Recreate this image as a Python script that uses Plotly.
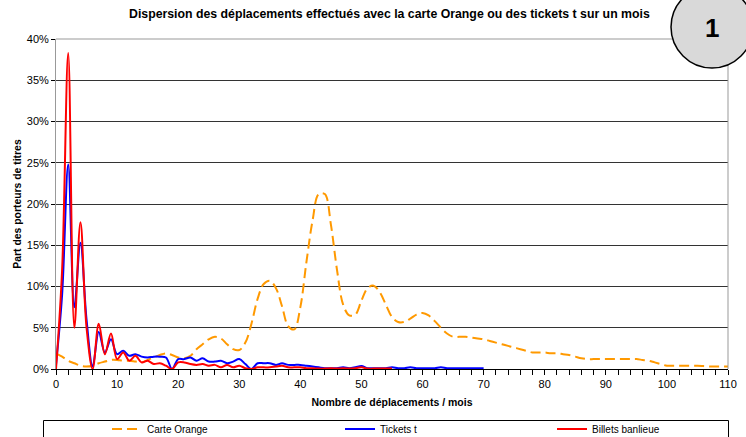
import plotly.graph_objects as go

# ---- data ----
x_orange = list(range(0, 111))
carte_orange = [1.9, 1.5, 1.0, 0.7, 0.4, 0.3, 0.4, 0.7, 0.9, 1.1,
                1.1, 1.0, 1.0, 0.9, 0.8, 1.1, 1.4, 1.7, 1.9, 1.7,
                1.4, 1.3, 1.6, 2.4, 3.0, 3.6, 3.9, 3.7, 3.0, 2.4,
                2.3, 3.2, 5.5, 8.5, 10.3, 10.7, 9.8, 7.6, 5.2, 4.8,
                7.5, 13.0, 18.0, 21.2, 21.2, 17.5, 12.0, 7.8, 6.5, 6.6,
                8.3, 9.8, 10.1, 9.3, 7.8, 6.3, 5.7, 5.7, 6.1, 6.6,
                6.8, 6.5, 5.8, 5.0, 4.3, 3.9, 3.9, 3.9, 3.8, 3.7,
                3.6, 3.4, 3.2, 3.0, 2.8, 2.6, 2.4, 2.2, 2.0, 2.0,
                2.0, 1.9, 1.9, 1.8, 1.7, 1.5, 1.3, 1.2, 1.2, 1.2,
                1.2, 1.2, 1.2, 1.2, 1.2, 1.2, 1.1, 1.0, 0.8, 0.6,
                0.4, 0.4, 0.4, 0.4, 0.4, 0.4, 0.35, 0.3, 0.3, 0.3,
                0.3]

x_tickets = list(range(0, 71))
tickets_t = [0.5, 9.0, 24.8, 7.5, 15.3, 6.0, 0.3, 4.5, 2.0, 3.6,
             1.8, 2.2, 1.6, 1.8, 1.5, 1.4, 1.5, 1.5, 1.4, 0.0,
             1.2, 1.2, 1.4, 1.0, 1.3, 0.9, 0.9, 1.0, 0.7, 0.9,
             1.2, 0.6, 0.0, 0.7, 0.7, 0.7, 0.5, 0.7, 0.5, 0.5,
             0.5, 0.4, 0.3, 0.2, 0.1, 0.1, 0.1, 0.2, 0.1, 0.2,
             0.35, 0.1, 0.1, 0.1, 0.1, 0.2, 0.1, 0.1, 0.2, 0.1,
             0.1, 0.1, 0.1, 0.2, 0.1, 0.1, 0.1, 0.1, 0.1, 0.1,
             0.1]

x_billets = list(range(0, 56))
billets_banlieue = [0.0, 12.0, 38.3, 5.0, 17.8, 5.0, 0.0, 5.5, 1.8, 4.3,
                    1.2, 2.0, 1.0, 1.6, 0.8, 1.0, 0.6, 0.7, 0.4, 0.0,
                    0.8, 0.8, 0.6, 0.5, 0.6, 0.4, 0.5, 0.2, 0.5, 0.2,
                    0.4, 0.1, 0.0, 0.2, 0.2, 0.2, 0.3, 0.4, 0.2, 0.2,
                    0.2, 0.1, 0.1, 0.05, 0.05, 0.1, 0.05, 0.1, 0.05, 0.1,
                    0.2, 0.05, 0.05, 0.05, 0.05, 0.05]

y_ticks = [0, 5, 10, 15, 20, 25, 30, 35, 40]
y_tick_labels = ["0%", "5%", "10%", "15%", "20%", "25%", "30%", "35%", "40%"]

FONT = "Liberation Sans, Arial, sans-serif"

fig = go.Figure()
fig.add_trace(go.Scatter(x=x_orange, y=carte_orange, name="Carte Orange", mode="lines",
                         line=dict(color="#FF9900", width=2, dash="10px,5px", shape="spline", smoothing=1),
                         legend="legend"))
fig.add_trace(go.Scatter(x=x_tickets, y=tickets_t, name="Tickets t", mode="lines",
                         line=dict(color="#0000FF", width=2, shape="spline", smoothing=1),
                         legend="legend2"))
fig.add_trace(go.Scatter(x=x_billets, y=billets_banlieue, name="Billets banlieue", mode="lines",
                         line=dict(color="#FF0000", width=2, shape="spline", smoothing=1),
                         legend="legend3"))

W, H = 746, 437
L, R, T, B = 56, 728, 39, 369
def px(x):
    return (x - L) / (R - L)
def py(y):
    return (B - y) / (B - T)

leg_common = dict(orientation="h", yanchor="middle", xanchor="left",
                  font=dict(family=FONT, size=10, color="#000"),
                  bgcolor="rgba(0,0,0,0)", borderwidth=0, itemwidth=30)

fig.update_layout(
    width=W, height=H,
    margin=dict(l=L, r=W - R, t=T, b=H - B, autoexpand=False),
    paper_bgcolor="white", plot_bgcolor="white",
    font=dict(family=FONT, size=11, color="#000"),
    legend=dict(x=px(107), y=py(429), **leg_common),
    legend2=dict(x=px(340), y=py(429), **leg_common),
    legend3=dict(x=px(552), y=py(429), **leg_common),
    xaxis=dict(range=[0, 110], dtick=10, tick0=0, ticks="outside", ticklen=5, tickcolor="#000",
               showline=True, linecolor="#000", linewidth=1, showgrid=False, zeroline=False,
               automargin=False,
               minor=dict(dtick=2, ticks="outside", ticklen=5, tickcolor="#000"),
               tickfont=dict(family=FONT, size=11, color="#000"),
               title=dict(text="<b>Nombre de déplacements / mois</b>", standoff=9,
                          font=dict(family=FONT, size=10.5, color="#000"))),
    yaxis=dict(range=[0, 40], tickvals=y_ticks, ticktext=y_tick_labels, ticks="outside", ticklen=4,
               tickcolor="#000", showline=True, linecolor="#999", linewidth=1,
               showgrid=True, gridcolor="#333", gridwidth=1, zeroline=False,
               automargin=False,
               tickfont=dict(family=FONT, size=11, color="#000"),
               title=dict(text="<b>Part des porteurs de titres</b>", standoff=3,
                          font=dict(family=FONT, size=10.4, color="#000"))),
    showlegend=True,
)

# plot border (top and right, gray)
fig.add_shape(type="line", xref="paper", yref="paper", x0=0, x1=1, y0=1, y1=1,
              line=dict(color="#999", width=1), layer="above")
fig.add_shape(type="line", xref="paper", yref="paper", x0=1, x1=1, y0=0, y1=1,
              line=dict(color="#999", width=1), layer="above")
# legend frame
fig.add_shape(type="rect", xref="paper", yref="paper", x0=px(43.5), x1=px(728.5),
              y0=py(450), y1=py(420.5), line=dict(color="#000", width=1), fillcolor="rgba(0,0,0,0)")
# numbered circle
fig.add_shape(type="circle", xref="paper", yref="paper", x0=px(671), x1=px(753),
              y0=py(68), y1=py(-14), line=dict(color="#000", width=1.5), fillcolor="#D9D9D9",
              layer="above")
fig.add_annotation(text="<b>1</b>", xref="paper", yref="paper", x=px(712), y=py(28),
                   xanchor="center", yanchor="middle",
                   showarrow=False, font=dict(family=FONT, size=26, color="#000"))
# title
fig.add_annotation(text="<b>Dispersion des déplacements effectués avec la carte Orange ou des tickets t sur un mois</b>",
                   xref="paper", yref="paper", x=px(389), y=py(14), showarrow=False,
                   xanchor="center", yanchor="middle",
                   font=dict(family=FONT, size=12.3, color="#000"))

fig.write_html("out.html", config={"displayModeBar": False},
               post_script="document.body.style.margin='0px';document.body.style.overflow='hidden';")
